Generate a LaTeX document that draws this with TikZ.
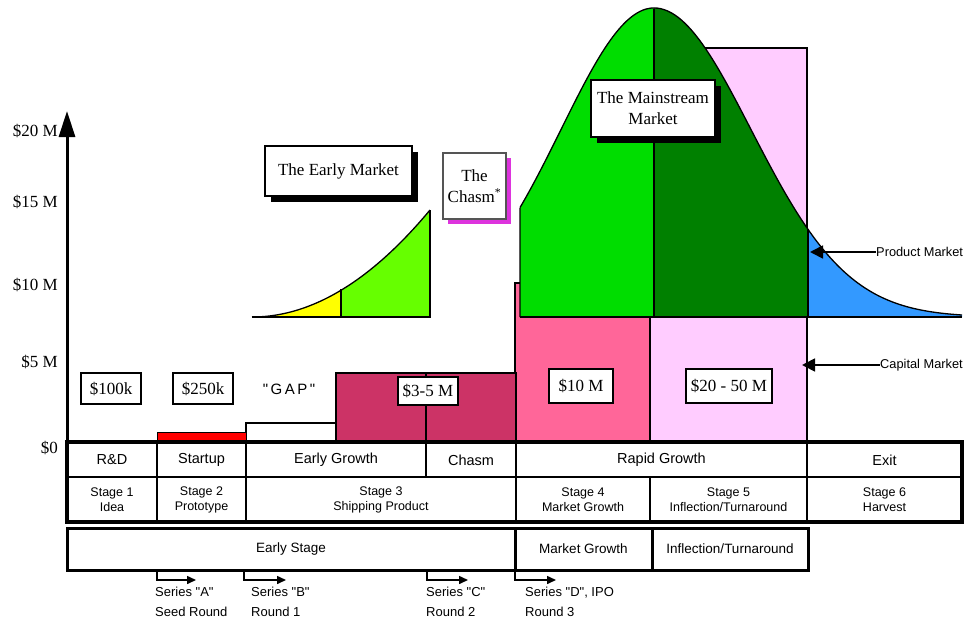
\documentclass[tikz,border=0pt]{standalone}
\usepackage{fontspec}
\setmainfont{Liberation Serif}
\newfontfamily\arialf{Liberation Sans}
\usetikzlibrary{arrows.meta,shadows}
\definecolor{ygold}{HTML}{FFFF00}
\definecolor{egreen}{HTML}{66FF00}
\definecolor{mgreen}{HTML}{00DD00}
\definecolor{dgreen}{HTML}{008000}
\definecolor{pblue}{HTML}{3399FF}
\definecolor{crim}{HTML}{CC3366}
\definecolor{pinkA}{HTML}{FF6699}
\definecolor{lpink}{HTML}{FFCCFF}
\definecolor{mag}{HTML}{DD33DD}
\definecolor{gbord}{HTML}{555555}
\begin{document}
\begin{tikzpicture}[x=1pt,y=-1pt,
  serif/.style={font=\fontsize{17}{21}\selectfont},
  axlab/.style={serif, anchor=east, inner sep=0pt},
  valbox/.style={draw, line width=1.6pt, fill=white, serif, inner sep=0pt, minimum height=31pt},
  bar/.style={draw, line width=1.4pt},
  titlebox/.style={draw, line width=1.5pt, fill=white, serif, align=center, inner sep=0pt,
     drop shadow={shadow xshift=6pt, shadow yshift=-6pt, fill=black, opacity=1}},
  rowA/.style={draw, line width=2pt, font=\arialf\fontsize{14.5}{16}\selectfont, inner sep=0pt, minimum height=34pt},
  rowB/.style={draw, line width=2pt, font=\arialf\fontsize{12.5}{15}\selectfont, align=center, inner sep=0pt, minimum height=45pt},
  rowC/.style={draw, line width=3pt, font=\arialf\fontsize{13.5}{15}\selectfont, inner sep=0pt, minimum height=42pt},
  serieslab/.style={anchor=north west, inner sep=0pt, align=left, font=\arialf\fontsize{13}{20}\selectfont},
  elbow/.style={line width=1.5pt, -{Triangle[length=9pt,width=8pt]}},
  mktlab/.style={anchor=west, inner sep=0pt, font=\arialf\fontsize{12.8}{14}\selectfont},
  mktarrow/.style={line width=1.8pt, -{Triangle[length=13pt,width=13pt]}},
  curveline/.style={line width=1.3pt}
]
\useasboundingbox (0,0) rectangle (966,626);

% capital market bars
\draw[bar, fill=lpink] (650,48) rectangle (807,442);
\draw[bar, fill=pinkA] (515,283) rectangle (650,442);
\draw[bar, fill=crim] (336,373) rectangle (426,442);
\draw[bar, fill=crim] (426,373) rectangle (516,442);
\draw[bar, fill=white] (246,423) rectangle (336,442);
\draw[line width=1pt, fill=red] (157,432) rectangle (246,442);

% mainstream market bell curve
\fill[mgreen] (520,317) -- plot[domain=520:654, samples=50] (\x, {317-309*exp(-0.5*((\x-654)/93)^2)}) -- (654,317) -- cycle;
\fill[dgreen] (654,317) -- plot[domain=654:808, samples=50] (\x, {317-309*exp(-0.5*((\x-654)/97)^2)}) -- (808,317) -- cycle;
\fill[pblue] (808,317) -- plot[domain=808:962, samples=50] (\x, {317-309*exp(-0.5*((\x-654)/97)^2)}) -- (962,317) -- cycle;
\draw[curveline] (520,317) -- (520,208) plot[domain=520:654, samples=50] (\x, {317-309*exp(-0.5*((\x-654)/93)^2)});
\draw[curveline] plot[domain=654:962, samples=90] (\x, {317-309*exp(-0.5*((\x-654)/97)^2)});
\draw[curveline] (654,9) -- (654,317);
\draw[curveline] (808,229) -- (808,317);
\draw[curveline] (520,317) -- (962,317);

% early market curve
\fill[ygold] (252,317) -- plot[domain=252:341, samples=30] (\x, {317-107*((\x-252)/178)^2}) -- (341,317) -- cycle;
\fill[egreen] (341,317) -- plot[domain=341:430, samples=30] (\x, {317-107*((\x-252)/178)^2}) -- (430,317) -- cycle;
\draw[curveline] plot[domain=252:430, samples=60] (\x, {317-107*((\x-252)/178)^2});
\draw[curveline] (252,317) -- (430,317) -- (430,210);
\draw[curveline] (341,289) -- (341,317);

% title boxes
\node[titlebox, minimum width=147pt, minimum height=50pt] (early) at (338.5,171) {The Early Market};
\node[draw=gbord, line width=2.2pt, fill=white, serif, align=center, inner sep=0pt,
  minimum width=63pt, minimum height=66pt,
  drop shadow={shadow xshift=5pt, shadow yshift=-5pt, fill=mag, opacity=1}] (chasm) at (474.5,186) {The\\Chasm\textsuperscript{*}};
\node[titlebox, minimum width=124pt, minimum height=57pt] (main) at (653,108.5) {The Mainstream\\Market};

% value boxes
\node[valbox, minimum width=60pt] (v1) at (111,388.5) {\$100k};
\node[valbox, minimum width=60pt] (v2) at (203,388.5) {\$250k};
\node[font=\arialf\fontsize{15}{17}\selectfont] (gap) at (289,389) {"\,G\,A\,P\,"};
\node[valbox, minimum width=60pt, minimum height=28pt] (v3) at (428,391) {\$3-5 M};
\node[valbox, minimum width=64pt, minimum height=34pt] (v4) at (581,386) {\$10 M};
\node[valbox, minimum width=86pt, minimum height=34pt] (v5) at (729,386) {\$20 - 50 M};

% market arrows
\node[mktlab] (pm) at (876,252) {Product Market};
\coordinate (pmt) at (810,252);
\draw[mktarrow] (pm.west) -- (pmt);
\node[mktlab] (cm) at (880,365) {Capital Market};
\coordinate (cmt) at (802,365);
\draw[mktarrow] (cm.west) -- (cmt);

% axis
\coordinate (origin) at (67,444);
\coordinate (ytop) at (67,111);
\draw[line width=3pt, -{Triangle[length=26pt,width=16pt]}] (origin) -- (ytop);
\node[axlab] (l20) at (58,131) {\$20 M};
\node[axlab] (l15) at (58,202) {\$15 M};
\node[axlab] (l10) at (58,285) {\$10 M};
\node[axlab] (l5) at (58,362) {\$5 M};
\node[axlab] (l0) at (58,448) {\$0};

% table row 1
\node[rowA, minimum width=90pt] (rd) at (112,460) {R\&D};
\node[rowA, minimum width=89pt] (su) at (201.5,460) {Startup};
\node[rowA, minimum width=180pt] (eg) at (336,460) {Early Growth};
\node[rowA, minimum width=90pt] (ch) at (471,460) {Chasm};
\node[rowA, minimum width=291pt] (rg) at (661.5,460) {Rapid Growth};
\node[rowA, minimum width=155pt] (ex) at (884.5,460) {Exit};
% table row 2
\node[rowB, minimum width=90pt] (s1) at (112,499.5) {Stage 1\\Idea};
\node[rowB, minimum width=89pt] (s2) at (201.5,499.5) {Stage 2\\Prototype};
\node[rowB, minimum width=270pt] (s3) at (381,499.5) {Stage 3\\Shipping Product};
\node[rowB, minimum width=134pt] (s4) at (583,499.5) {Stage 4\\Market Growth};
\node[rowB, minimum width=157pt] (s5) at (728.5,499.5) {Stage 5\\Inflection/Turnaround};
\node[rowB, minimum width=155pt] (s6) at (884.5,499.5) {Stage 6\\Harvest};
\draw[line width=3.5pt] (67,442) rectangle (962,522);
% table row 3
\node[rowC, minimum width=448pt] (es) at (291,549) {Early Stage};
\node[rowC, minimum width=137pt] (mg) at (583.5,549) {Market Growth};
\node[rowC, minimum width=156pt] (it) at (730,549) {Inflection/Turnaround};

% series arrows
\coordinate (a0) at (157,570); \coordinate (a1) at (196,580);
\coordinate (b0) at (244,570); \coordinate (b1) at (286,580);
\coordinate (c0) at (427,570); \coordinate (c1) at (468,580);
\coordinate (d0) at (515,570); \coordinate (d1) at (556,580);
\draw[elbow] (a0) |- (a1);
\draw[elbow] (b0) |- (b1);
\draw[elbow] (c0) |- (c1);
\draw[elbow] (d0) |- (d1);
\node[serieslab] (sa) at (155,587) {Series "A"\\Seed Round};
\node[serieslab] (sb) at (251,587) {Series "B"\\Round 1};
\node[serieslab] (sc) at (426,587) {Series "C"\\Round 2};
\node[serieslab] (sd) at (525,587) {Series "D", IPO\\Round 3};
\end{tikzpicture}
\end{document}
